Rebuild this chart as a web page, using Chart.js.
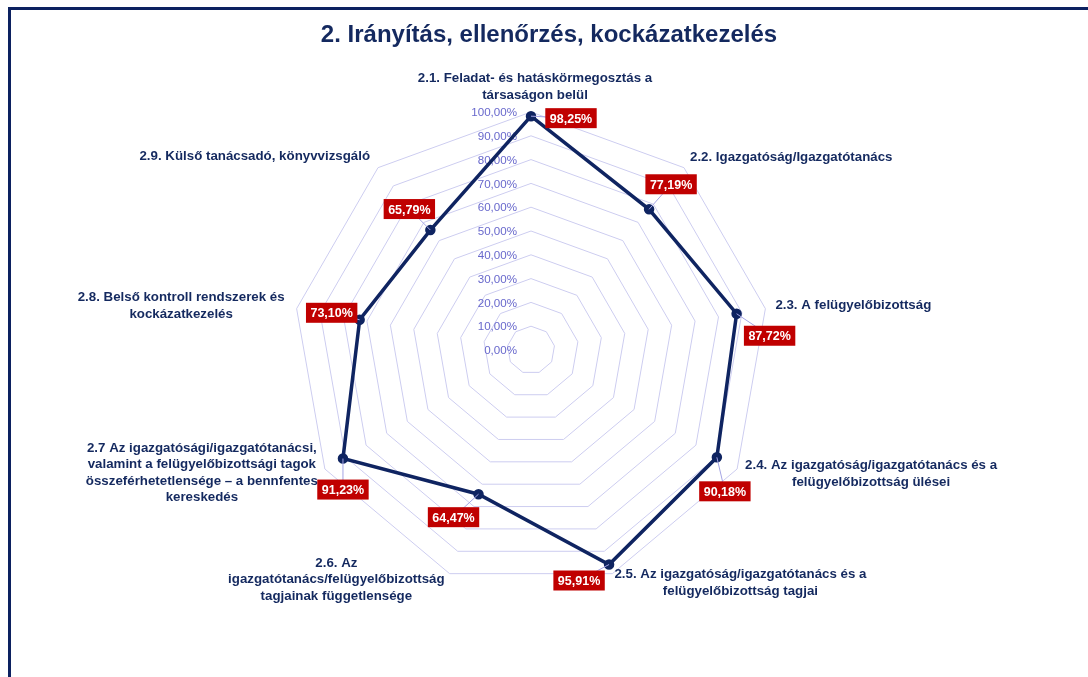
<!DOCTYPE html>
<html>
<head>
<meta charset="utf-8">
<script src="https://cdn.jsdelivr.net/npm/chart.js@4.4.1/dist/chart.umd.min.js"></script>
<style>
  body { margin: 0; background: #fff; }
  #wrap { position: relative; width: 1088px; height: 677px; overflow: hidden; }
  #frame {
    position: absolute; left: 8px; top: 7px; right: -4px; bottom: -4px;
    border-top: 3px solid #0c2160; border-left: 3px solid #0c2160;
    pointer-events: none;
  }
</style>
</head>
<body>
<div id="wrap">
  <canvas id="radar" width="1088" height="677"></canvas>
  <div id="frame"></div>
</div>
<script>
var chartTitle = "2. Irányítás, ellenőrzés, kockázatkezelés";

var categories = [
  ["2.1. Feladat- és hatáskörmegosztás a", "társaságon belül"],
  ["2.2. Igazgatóság/Igazgatótanács"],
  ["2.3. A felügyelőbizottság"],
  ["2.4. Az igazgatóság/igazgatótanács és a", "felügyelőbizottság ülései"],
  ["2.5. Az igazgatóság/igazgatótanács és a", "felügyelőbizottság tagjai"],
  ["2.6. Az", "igazgatótanács/felügyelőbizottság", "tagjainak függetlensége"],
  ["2.7 Az igazgatósági/igazgatótanácsi,", "valamint a felügyelőbizottsági tagok", "összeférhetetlensége – a bennfentes", "kereskedés"],
  ["2.8. Belső kontroll rendszerek és", "kockázatkezelés"],
  ["2.9. Külső tanácsadó, könyvvizsgáló"]
];

var scores = [98.25, 77.19, 87.72, 90.18, 95.91, 64.47, 91.23, 73.10, 65.79];

var tickValues = [0, 10, 20, 30, 40, 50, 60, 70, 80, 90, 100];

// where each category label sits, relative to the outer end of its spoke
var labelPlace = [
  { align: "center", dx: 4, dy: -25 },
  { align: "left", dx: 6, dy: -10 },
  { align: "left", dx: 10, dy: -3 },
  { align: "left", dx: 8, dy: 5 },
  { align: "left", dx: 2, dy: 9 },
  { align: "right", dx: -5, dy: 6 },
  { align: "right", dx: -7, dy: 4 },
  { align: "right", dx: -12, dy: -3 },
  { align: "right", dx: -8, dy: -11 }
];

// offsets of the red value boxes from their points
var boxShift = [[40, 2], [22, -25], [33, 22], [8, 34], [-30, 16], [-25, 23], [0, 31], [-28, -7], [-21, -21]];

var navy = "#0f2461";
var textNavy = "#14295f";

function pct(v) {
  return v.toFixed(2).replace(".", ",") + "%";
}

var decor = {
  id: "decor",
  beforeDatasetsDraw: function(chart) {
    var ctx = chart.ctx;
    var r = chart.scales.r;
    ctx.save();
    ctx.font = "11.6px 'Liberation Sans', Arial, sans-serif";
    ctx.fillStyle = "#6868cc";
    ctx.textAlign = "right";
    ctx.textBaseline = "middle";
    tickValues.forEach(function(v) {
      var y = r.yCenter - r.getDistanceFromCenterForValue(v);
      ctx.fillText(pct(v), r.xCenter - 14, y + 1);
    });
    ctx.restore();
  },
  afterDatasetsDraw: function(chart) {
    var ctx = chart.ctx;
    var r = chart.scales.r;
    ctx.save();

    // title
    ctx.font = "bold 24px 'Liberation Sans', Arial, sans-serif";
    ctx.fillStyle = textNavy;
    ctx.textAlign = "center";
    ctx.textBaseline = "middle";
    ctx.fillText(chartTitle, 549, 35);

    // category labels
    ctx.font = "bold 13.3px 'Liberation Sans', Arial, sans-serif";
    var lh = 16.5;
    categories.forEach(function(lines, i) {
      var pos = r.getPointPosition(i, r.drawingArea);
      var place = labelPlace[i];
      var w = 0;
      lines.forEach(function(t) { w = Math.max(w, ctx.measureText(t).width); });
      var left = pos.x + place.dx;
      if (place.align === "right") left -= w;
      if (place.align === "center") left -= w / 2;
      var y0 = pos.y + place.dy - (lines.length - 1) * lh / 2;
      lines.forEach(function(t, k) {
        ctx.fillText(t, left + w / 2, y0 + k * lh);
      });
    });

    // value boxes
    var pts = chart.getDatasetMeta(0).data;
    ctx.font = "bold 12.5px 'Liberation Sans', Arial, sans-serif";
    pts.forEach(function(p, i) {
      var bx = p.x + boxShift[i][0];
      var by = p.y + boxShift[i][1];
      var txt = pct(scores[i]);
      var bw = ctx.measureText(txt).width + 9;
      var bh = 20;
      ctx.strokeStyle = "#a4a4e4";
      ctx.lineWidth = 1;
      ctx.beginPath();
      ctx.moveTo(p.x, p.y);
      ctx.lineTo(bx, by);
      ctx.stroke();
      ctx.fillStyle = "#c00000";
      ctx.fillRect(bx - bw / 2, by - bh / 2, bw, bh);
      ctx.fillStyle = "#ffffff";
      ctx.fillText(txt, bx, by + 1);
    });

    ctx.restore();
  }
};

var ctx = document.getElementById("radar").getContext("2d");
var chart = new Chart(ctx, {
  type: "radar",
  data: {
    labels: categories,
    datasets: [
      {
        data: scores,
        borderColor: navy,
        backgroundColor: "rgba(0,0,0,0)",
        borderWidth: 3.5,
        fill: false,
        pointRadius: 3.5,
        pointBackgroundColor: navy,
        pointBorderColor: navy
      }
    ]
  },
  options: {
    responsive: false,
    animation: false,
    layout: {
      padding: { left: 293, right: 319, top: 112, bottom: 89 }
    },
    plugins: {
      legend: { display: false },
      tooltip: { enabled: false },
      title: { display: false }
    },
    scales: {
      r: {
        min: 0,
        max: 100,
        ticks: { stepSize: 10, display: false, showLabelBackdrop: false },
        grid: { color: "#cdcdf0", lineWidth: 1 },
        angleLines: { display: false },
        pointLabels: { display: false }
      }
    }
  },
  plugins: [decor]
});
</script>
</body>
</html>
